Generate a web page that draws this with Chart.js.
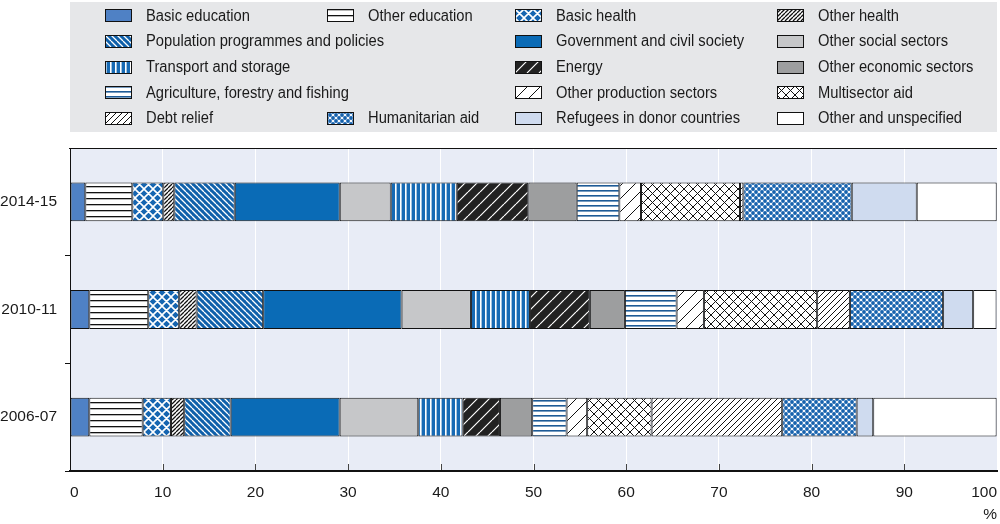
<!DOCTYPE html>
<html><head><meta charset="utf-8">
<script src="https://cdn.jsdelivr.net/npm/chart.js@4.4.1/dist/chart.umd.min.js"></script>
<style>
html,body{margin:0;padding:0;background:#fff;}
#wrap{position:relative;width:1000px;height:524px;overflow:hidden;}
#c{position:absolute;left:0;top:0;}
#legendBox{position:absolute;left:70px;top:2px;width:927px;height:130px;background:#e6e7e9;}
.lt{position:absolute;font-size:16px;font-family:'Liberation Sans',Arial,sans-serif;color:#1a1a1a;white-space:nowrap;line-height:18px;transform:scaleX(0.92);transform-origin:0 50%;}
.sw{position:absolute;}
</style></head><body>
<div id="wrap"><div id="legendBox"></div><canvas id="c" width="1000" height="524"></canvas></div>
<script>
// ---------- DATA ----------
const categories = ['2014-15', '2010-11', '2006-07'];
const seriesNames = [
  'Basic education', 'Other education', 'Basic health', 'Other health',
  'Population programmes and policies', 'Government and civil society', 'Other social sectors',
  'Transport and storage', 'Energy', 'Other economic sectors',
  'Agriculture, forestry and fishing', 'Other production sectors', 'Multisector aid',
  'Debt relief', 'Humanitarian aid', 'Refugees in donor countries', 'Other and unspecified'
];
const basicEducation   = [1.65, 2.08, 2.08];
const otherEducation   = [5.07, 6.36, 5.76];
const basicHealth      = [3.34, 3.34, 3.05];
const otherHealth      = [1.19, 1.88, 1.43];
const population       = [6.52, 7.18, 5.01];
const government       = [11.33, 14.93, 11.76];
const otherSocial      = [5.50, 7.48, 8.48];
const transport        = [7.12, 6.36, 4.79];
const energy           = [7.72, 6.47, 4.02];
const otherEconomic    = [5.22, 3.78, 3.48];
const agriculture      = [4.60, 5.58, 3.71];
const otherProduction  = [2.34, 2.94, 2.22];
const multisector      = [10.68, 12.22, 6.95];
const debtRelief       = [0.36, 3.53, 14.09];
const humanitarian     = [11.69, 10.06, 8.03];
const refugees         = [7.01, 3.24, 1.79];
const otherUnspecified = [8.63, 2.52, 13.31];
const xTicks = [0, 10, 20, 30, 40, 50, 60, 70, 80, 90, 100];

const seriesValues = [basicEducation, otherEducation, basicHealth, otherHealth, population,
  government, otherSocial, transport, energy, otherEconomic, agriculture, otherProduction,
  multisector, debtRelief, humanitarian, refugees, otherUnspecified];

// ---------- STYLES ----------
const FONT = "'Liberation Sans',Arial,sans-serif";
function tile(s, bg, fn){ const c=document.createElement('canvas'); c.width=s; c.height=s; const g=c.getContext('2d'); g.fillStyle=bg; g.fillRect(0,0,s,s); if(fn) fn(g,s); return c; }
function hl(bg,fg,s,w){ return tile(s,bg,(g)=>{g.fillStyle=fg; g.fillRect(0,0,s,w);}); }
function vl(bg,fg,s,w){ return tile(s,bg,(g)=>{g.fillStyle=fg; g.fillRect(0,0,w,s);}); }
function dg(bg,fg,s,w,dir){ return tile(s,bg,(g)=>{g.strokeStyle=fg; g.lineWidth=w; g.beginPath();
  for(const k of [-s,0,s]){ if(dir==='/'){g.moveTo(k,s);g.lineTo(k+s,0);} else {g.moveTo(k,0);g.lineTo(k+s,s);} } g.stroke();}); }
function cr(bg,fg,s,w){ return tile(s,bg,(g)=>{g.strokeStyle=fg; g.lineWidth=w; g.beginPath();
  for(const k of [-s,0,s]){ g.moveTo(k,s);g.lineTo(k+s,0); g.moveTo(k,0);g.lineTo(k+s,s);} g.stroke();}); }
function dots(bg,fg,s,r){ return tile(s,bg,(g)=>{g.fillStyle=fg;
  for(const [x,y] of [[0,0],[s,0],[0,s],[s,s],[s/2,s/2]]){ g.beginPath(); g.arc(x,y,r,0,Math.PI*2); g.fill(); }}); }

const fillDefs = [
  '#4f81c5',
  hl('#ffffff','#111111',6,1.3),
  cr('#1565b1','#ffffff',9,1.6),
  dg('#ffffff','#111111',4,1.3,'/'),
  dg('#0f60aa','#ffffff',6,1.3,'\\'),
  '#0a6bb6',
  '#c6c7c9',
  vl('#176ab4','#ffffff',5,1.6),
  dg('#222222','#ffffff',12,1.2,'/'),
  '#9d9e9f',
  hl('#ffffff','#1d5a96',5,1.6),
  dg('#ffffff','#111111',13,1,'/'),
  cr('#ffffff','#111111',9,1),
  dg('#ffffff','#111111',6,1,'/'),
  dots('#f4f7fc','#1662ad',6,1.9),
  '#cfdbef',
  '#ffffff'
];
function fillFor(ctx, d){ return typeof d === 'string' ? d : ctx.createPattern(d, 'repeat'); }

// ---------- LEGEND (HTML) ----------
const legendCols = [105, 327, 515, 777];
const legendRows = [15.7, 41.3, 67, 92.7, 118.3];
const legendSlots = [[0,0],[0,1],[0,2],[0,3],[1,0],[1,2],[1,3],[2,0],[2,2],[2,3],[3,0],[3,2],[3,3],[4,0],[4,1],[4,2],[4,3]];
const wrap = document.getElementById('wrap');
seriesNames.forEach((name,i)=>{
  const [r,c] = legendSlots[i];
  const x = legendCols[c], y = legendRows[r];
  const sw = document.createElement('canvas'); sw.width=27; sw.height=13; sw.className='sw';
  sw.style.left = x+'px'; sw.style.top = (y-6.5)+'px';
  const g = sw.getContext('2d'); g.fillStyle = fillFor(g, fillDefs[i]); g.fillRect(0,0,27,13);
  g.strokeStyle='#111'; g.lineWidth=1; g.strokeRect(0.5,0.5,26,12);
  wrap.appendChild(sw);
  const t = document.createElement('div'); t.className='lt'; t.textContent=name;
  t.style.left=(x+41)+'px'; t.style.top=(y-9)+'px';
  wrap.appendChild(t);
});

// ---------- CHART ----------
const canvas = document.getElementById('c');
const ctx = canvas.getContext('2d');
Chart.defaults.font.family = FONT;
Chart.defaults.font.size = 15.5;
Chart.defaults.color = '#1a1a1a';

const plotDeco = {
  id:'plotDeco',
  beforeDraw(chart){ const a=chart.chartArea, g=chart.ctx; g.save(); g.fillStyle='#e8ecf6'; g.fillRect(a.left,a.top,a.right-a.left,a.bottom-a.top); g.restore(); },
  afterDraw(chart){ const xs=chart.scales.x, g=chart.ctx, a=chart.chartArea, b=a.bottom; g.save(); g.strokeStyle='#444'; g.lineWidth=1;
    xTicks.forEach(v=>{ if(v<=0||v>=100) return; const px=Math.round(xs.getPixelForValue(v))+0.5; g.beginPath(); g.moveTo(px,b-1); g.lineTo(px,b-7); g.stroke(); });
    g.strokeStyle='#111'; g.beginPath(); g.moveTo(a.left-1, a.top+0.5); g.lineTo(a.right, a.top+0.5); g.stroke();
    g.restore(); }
};

new Chart(ctx, {
  type:'bar',
  data:{
    labels: categories,
    datasets: seriesNames.map((name,i)=>({
      label:name, data:seriesValues[i], backgroundColor:fillFor(ctx, fillDefs[i]),
      borderColor:'#111', borderWidth:1, borderSkipped:false,
      barPercentage:0.36, categoryPercentage:1
    }))
  },
  options:{
    indexAxis:'y', responsive:false, animation:false, devicePixelRatio:1,
    layout:{padding:{top:148,right:3,left:0,bottom:0}},
    plugins:{legend:{display:false}, tooltip:{enabled:false}},
    scales:{
      x:{ stacked:true, min:0, max:100,
        afterBuildTicks(s){ s.ticks = xTicks.map(v=>({value:v})); },
        afterFit(s){ s.height = 53; s.paddingLeft=0; s.paddingRight=0; },
        grid:{ color:'#ffffff', lineWidth:1, drawTicks:false },
        border:{ color:'#111', width:2 },
        ticks:{ padding:12, align:'inner', maxRotation:0 },
        title:{ display:true, text:'%', align:'end', padding:{top:0,bottom:0} }
      },
      y:{ stacked:true,
        afterFit(s){ s.width = 70; },
        grid:{ offset:true, drawOnChartArea:false, drawTicks:true, tickLength:5,
          color:(c)=> (c.index===0 || c.index>=categories.length) ? 'rgba(0,0,0,0)' : '#111' },
        border:{ color:'#111', width:1 },
        ticks:{ padding:8 }
      }
    }
  },
  plugins:[plotDeco]
});
</script>
</body></html>
